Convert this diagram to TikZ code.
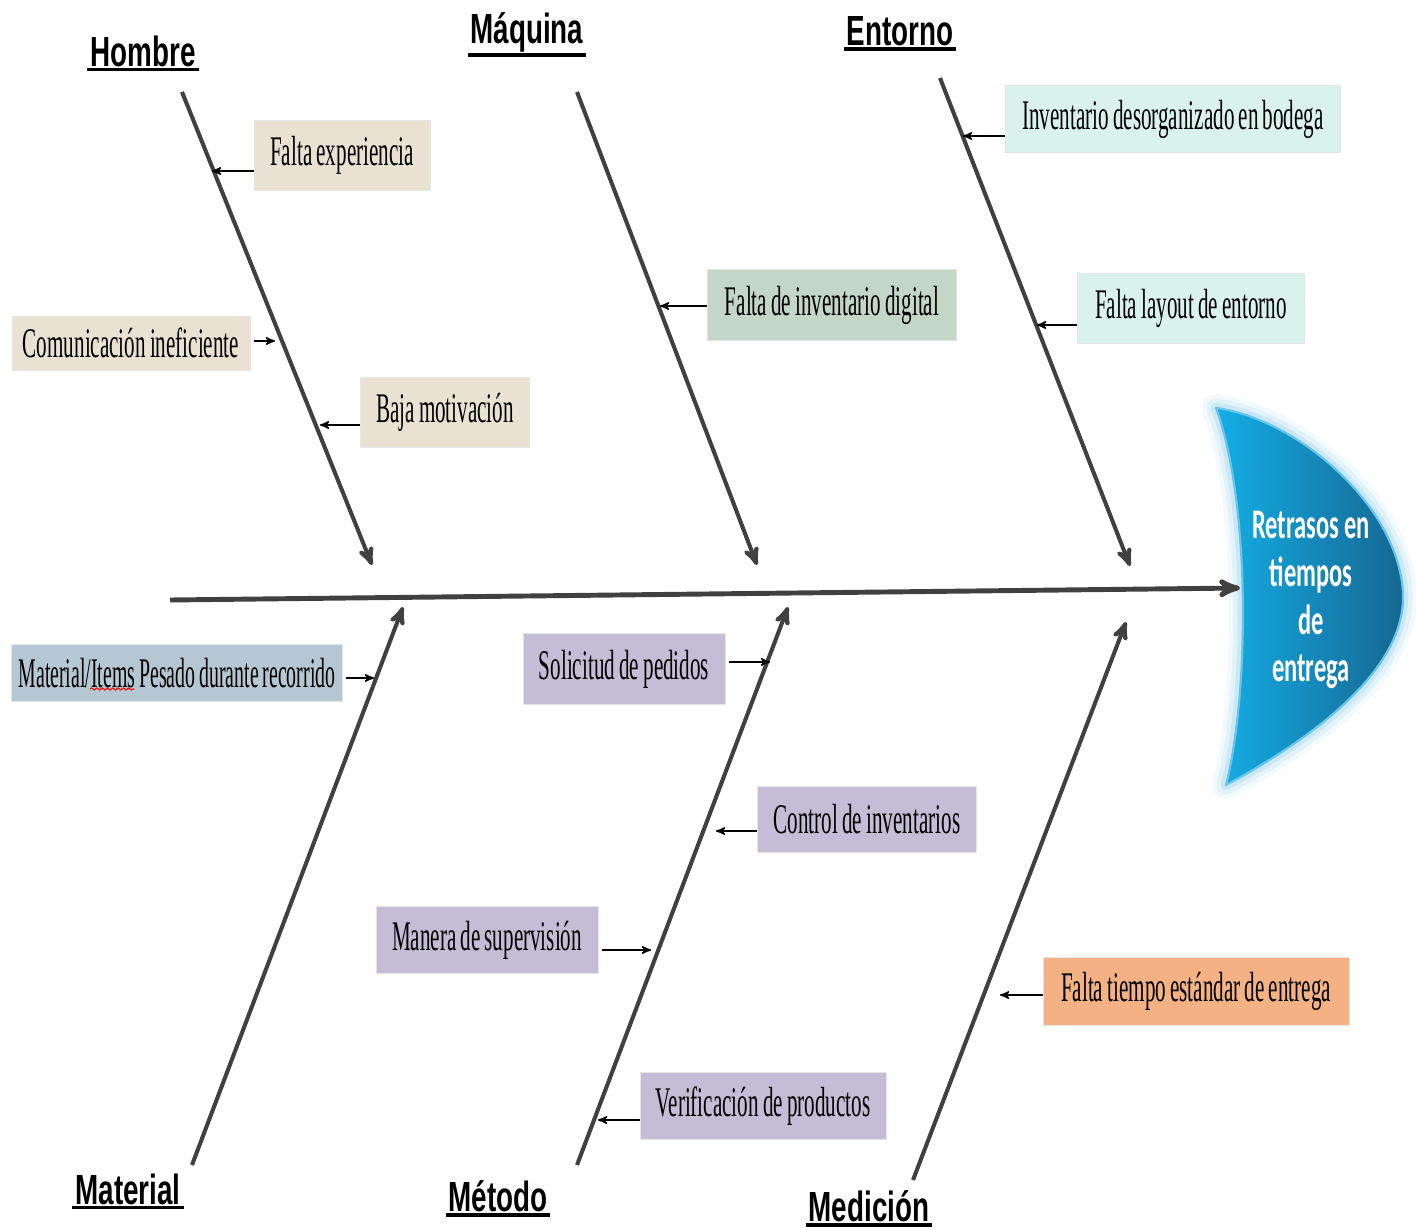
\documentclass[tikz,border=0pt]{standalone}
\usepackage{fontspec}
\usetikzlibrary{calc}
\usetikzlibrary{arrows}
\usetikzlibrary{decorations.pathmorphing}
\usepackage{xcolor}
\newfontfamily\causefont[FakeStretch=0.5, WordSpace=0.8]{Liberation Serif}
\newfontfamily\narrowfont[FakeStretch=0.47, WordSpace=0.8]{Liberation Serif}
\newfontfamily\bonefont[FakeStretch=0.66]{Liberation Sans}
\newfontfamily\headfont[FakeStretch=0.58]{Carlito}
\definecolor{bonegray}{HTML}{404040}
\definecolor{beige}{HTML}{E9E1D2}
\definecolor{sage}{HTML}{C3D6C8}
\definecolor{mint}{HTML}{DAF2EC}
\definecolor{steel}{HTML}{B4C7D3}
\definecolor{lavender}{HTML}{C5BCD5}
\definecolor{peach}{HTML}{F4B183}
\definecolor{headlight}{HTML}{14AEE6}
\definecolor{headdark}{HTML}{156690}
\definecolor{headglow}{HTML}{9FD3EC}

\begin{document}
\begin{tikzpicture}[x=0.02cm, y=-0.02cm,
  bone/.style={bonegray, line width=2.3pt, -stealth'},
  spine/.style={bonegray, line width=2.8pt, -stealth'},
  small/.style={black, line width=0.9pt, ->, >=stealth'},
  cause/.style={draw=white!90!black, inner sep=0pt, font=\causefont\fontsize{24}{26}\selectfont},
  label/.style={inner sep=1.5pt, font=\bonefont\bfseries\fontsize{24}{26}\selectfont},
  head/.style={line join=round}]
\useasboundingbox (0,0) rectangle (1416,1230);

\foreach \w/\o in {16/.12, 11/.2, 6/.35}
 \path[head, draw=headglow, line width=\w pt, opacity=\o]
  (1216,408) .. controls (1295,418) and (1400,505) .. (1403,595)
  .. controls (1405,675) and (1300,745) .. (1226,785)
  .. controls (1250,690) and (1250,500) .. cycle;
\path[head, left color=headlight, right color=headdark, draw=headglow!60!headlight, line width=1.2pt]
 (1216,408) .. controls (1295,418) and (1400,505) .. (1403,595)
 .. controls (1405,675) and (1300,745) .. (1226,785)
 .. controls (1250,690) and (1250,500) .. cycle;
\node[white, align=center, font=\headfont\bfseries\fontsize{24}{27.2}\selectfont] (efecto) at (1311,600)
 {Retrasos en\\tiempos\\de\\entrega};

\coordinate (s0) at (170,600);
\coordinate (s1) at (1240,588);
\draw[spine] (s0) -- (s1);

\node[label] (hombre) at (143,51) {Hombre};
\node[label] (maquina) at (527,32) {Máquina};
\node[label] (entorno) at (900,31) {Entorno};
\node[label] (material) at (128,1189) {Material};
\node[label] (metodo) at (498,1196) {Método};
\node[label] (medicion) at (869,1206) {Medición};
\foreach \n in {hombre,maquina,entorno,material,metodo,medicion}
 \draw[black, line width=2.2pt] (\n.south west) -- (\n.south east);

\coordinate (h0) at (182,92);  \coordinate (h1) at (372,565);
\coordinate (q0) at (577,92);  \coordinate (q1) at (757,565);
\coordinate (e0) at (940,78);  \coordinate (e1) at (1130,566);
\coordinate (m0) at (192,1165); \coordinate (m1) at (403,607);
\coordinate (t0) at (577,1165); \coordinate (t1) at (788,607);
\coordinate (d0) at (913,1180); \coordinate (d1) at (1126,622);
\foreach \a/\b in {h0/h1,q0/q1,e0/e1,m0/m1,t0/t1,d0/d1}
 \draw[bone] (\a) -- (\b);

\node[cause, fill=beige, minimum width=3.52cm, minimum height=1.4cm] (exp) at (342,155) {Falta experiencia};
\node[cause, fill=beige, minimum width=4.76cm, minimum height=1.08cm] (com) at (131,343) {Comunicación ineficiente};
\node[cause, fill=beige, minimum width=3.38cm, minimum height=1.4cm] (mot) at (445,412) {Baja motivación};
\node[cause, fill=sage, minimum width=4.98cm, minimum height=1.42cm] (dig) at (832,305) {Falta de inventario digital};
\node[cause, fill=mint, minimum width=6.7cm, minimum height=1.34cm] (bod) at (1173,119) {Inventario desorganizado en bodega};
\node[cause, fill=mint, minimum width=4.54cm, minimum height=1.4cm] (lay) at (1191,308) {Falta layout de entorno};
\node[cause, fill=steel, minimum width=6.62cm, minimum height=1.14cm, font=\narrowfont\fontsize{24}{26}\selectfont] (pes) at (177,673) {Material/Items Pesado durante recorrido};
\node[cause, fill=lavender, minimum width=4.04cm, minimum height=1.42cm] (sol) at (624,669) {Solicitud de pedidos};
\node[cause, fill=lavender, minimum width=4.38cm, minimum height=1.32cm] (inv) at (867,819) {Control de inventarios};
\node[cause, fill=lavender, minimum width=4.44cm, minimum height=1.34cm] (sup) at (487,940) {Manera de supervisión};
\node[cause, fill=lavender, minimum width=4.92cm, minimum height=1.34cm] (ver) at (763,1106) {Verificación de productos};
\node[cause, fill=peach, minimum width=6.12cm, minimum height=1.36cm] (est) at (1196,991) {Falta tiempo estándar de entrega};

\draw[red, line width=0.6pt, decorate, decoration={snake, amplitude=0.6pt, segment length=3pt}] (90,689) -- (134,689);

\coordinate (expt) at (212,171);
\coordinate (comt) at (275,341);
\coordinate (mott) at (320,425);
\coordinate (digt) at (660,306);
\coordinate (bodt) at (963,136);
\coordinate (layt) at (1037,325);
\coordinate (pest) at (374,678);
\coordinate (solt) at (770,662);
\coordinate (invt) at (716,831);
\coordinate (supt) at (651,950);
\coordinate (vert) at (598,1120);
\coordinate (estt) at (1000,995);
\foreach \n in {exp,mot,dig,bod,lay,inv,ver,est}
 \draw[small] (\n.west |- \n t) -- (\n t);
\foreach \n in {com,pes,sol,sup}
 \draw[small] ([xshift=2]\n.east |- \n t) -- (\n t);
\end{tikzpicture}
\end{document}
